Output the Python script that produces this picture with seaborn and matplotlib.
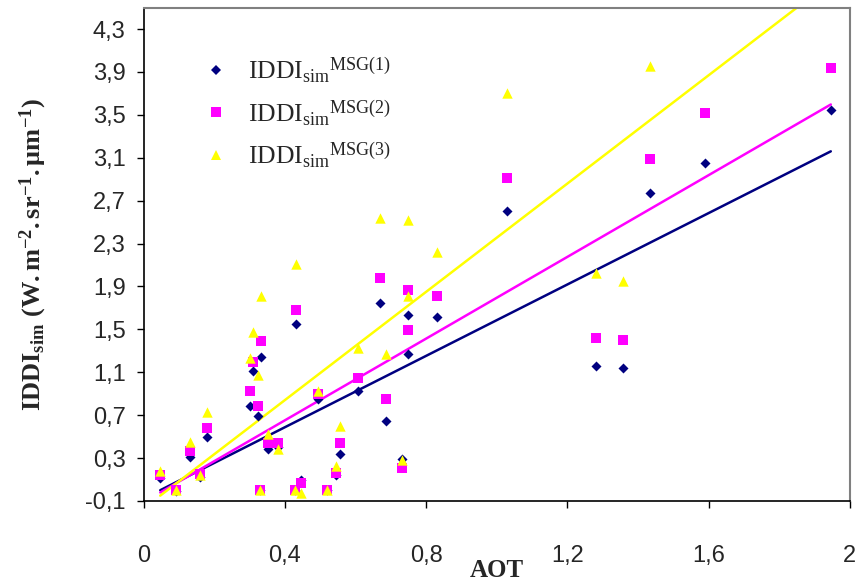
import numpy as np
import pandas as pd
import matplotlib
matplotlib.use("Agg")
import matplotlib.pyplot as plt
import seaborn as sns

# AOT values and the three simulated IDDI series (NaN = off the chart)
aot = [0.047, 0.093, 0.13, 0.159, 0.18, 0.302, 0.31, 0.324, 0.333, 0.33,
       0.352, 0.38, 0.432, 0.43, 0.445, 0.494, 0.52, 0.544, 0.555, 0.607,
       0.67, 0.685, 0.732, 0.749, 0.75, 0.832, 1.03, 1.281, 1.357, 1.435,
       1.589, 1.946]
iddi_msg1 = [0.11, -0.01, 0.31, 0.12, 0.50, 0.79, 1.11, 0.69, 1.24, 0.0,
             0.38, 0.40, 1.55, 0.0, 0.10, 0.85, 0.0, 0.14, 0.34, 0.93,
             1.75, 0.65, 0.29, 1.63, 1.27, 1.62, 2.60, 1.16, 1.14, 2.77,
             3.05, 3.55]
iddi_msg2 = [0.14, 0.0, 0.37, 0.15, 0.585, 0.93, 1.20, 0.79, 1.39, 0.0,
             0.44, 0.44, 1.68, 0.0, 0.07, 0.90, 0.0, 0.16, 0.44, 1.05,
             1.98, 0.85, 0.21, 1.87, 1.49, 1.81, 2.91, 1.42, 1.40, 3.09,
             3.52, 3.94]
iddi_msg3 = [0.18, 0.0, 0.45, 0.14, 0.725, 1.23, 1.48, 1.07, 1.81, 0.0,
             0.52, 0.38, 2.11, 0.0, -0.03, 0.93, 0.0, 0.23, 0.60, 1.33,
             2.54, 1.27, 0.28, 2.52, 1.81, 2.22, 3.70, 2.03, 1.95, 3.96,
             np.nan, np.nan]

# linear trendlines (slope, intercept)
trend_slope = [1.664, 1.905, 2.524]
trend_intercept = [-0.078, -0.11, -0.169]

series_names = [r"IDDI$_{\mathrm{sim}}$$^{\mathrm{MSG(1)}}$",
                r"IDDI$_{\mathrm{sim}}$$^{\mathrm{MSG(2)}}$",
                r"IDDI$_{\mathrm{sim}}$$^{\mathrm{MSG(3)}}$"]
colors = ["#000080", "#FF00FF", "#FFFF00"]
markers = ["D", "s", "^"]
sizes = [26, 44, 56]

yticks = [-0.1, 0.3, 0.7, 1.1, 1.5, 1.9, 2.3, 2.7, 3.1, 3.5, 3.9, 4.3]
xticks = [0, 0.4, 0.8, 1.2, 1.6, 2]

sns.set_style("white")
plt.rcParams["font.family"] = ["Liberation Sans", "DejaVu Sans"]
plt.rcParams["mathtext.fontset"] = "custom"
plt.rcParams["mathtext.rm"] = "Liberation Serif"
plt.rcParams["mathtext.it"] = "Liberation Serif:italic"
plt.rcParams["mathtext.bf"] = "Liberation Serif:bold"

fig = plt.figure(figsize=(8.55, 5.88), dpi=100)
ax = fig.add_axes([0.168, 0.148, 0.826, 0.839])

df = pd.DataFrame({"AOT": aot, "s1": iddi_msg1, "s2": iddi_msg2, "s3": iddi_msg3})
aot_arr = np.array(aot)
xline = np.array([aot_arr.min(), aot_arr.max()])

handles = []
for i, col in enumerate(["s1", "s2", "s3"]):
    sns.lineplot(x=xline, y=trend_slope[i] * xline + trend_intercept[i], ax=ax,
                 color=colors[i], linewidth=1.8, zorder=2)
for i, col in enumerate(["s1", "s2", "s3"]):
    sns.scatterplot(data=df, x="AOT", y=col, ax=ax, color=colors[i],
                    marker=markers[i], s=sizes[i], linewidth=0, zorder=3)
    h = plt.Line2D([], [], color=colors[i], marker=markers[i], linestyle="",
                   markersize=[5.0, 6.5, 7.5][i], markeredgewidth=0)
    handles.append(h)

ax.set_xlim(0, 2)
ax.set_ylim(-0.1, 4.5)
ax.set_xticks(xticks)
ax.set_yticks(yticks)
ax.set_xticklabels([("%g" % v).replace(".", ",") for v in xticks], fontsize=17)
ax.set_yticklabels([("%.1f" % v).replace(".", ",") for v in yticks], fontsize=17)
ax.tick_params(axis="both", direction="out", length=5, width=1, color="black",
               bottom=True, left=True)
ax.tick_params(axis="x", pad=27)
ax.tick_params(axis="y", pad=8)

for side in ["left", "bottom"]:
    ax.spines[side].set_color("black")
    ax.spines[side].set_linewidth(1.2)
for side in ["top", "right"]:
    ax.spines[side].set_color("#808080")
    ax.spines[side].set_linewidth(1.5)

ax.set_xlabel("AOT", fontsize=18, fontweight="bold", family="Liberation Serif",
              labelpad=-6)
ax.set_ylabel(r"$\mathbf{IDDI}_{\mathbf{sim}}$ $\mathbf{(W.m^{-2}.sr^{-1}.\mu m^{-1})}$",
              fontsize=19, labelpad=26)

ax.legend(handles, series_names, loc="upper left", bbox_to_anchor=(0.06, 0.925),
          frameon=False, handletextpad=0.5, labelspacing=0.5,
          handlelength=1.5, borderaxespad=0,
          prop={"family": "Liberation Serif", "size": 18.5})

fig.savefig("out.png", dpi=100)
